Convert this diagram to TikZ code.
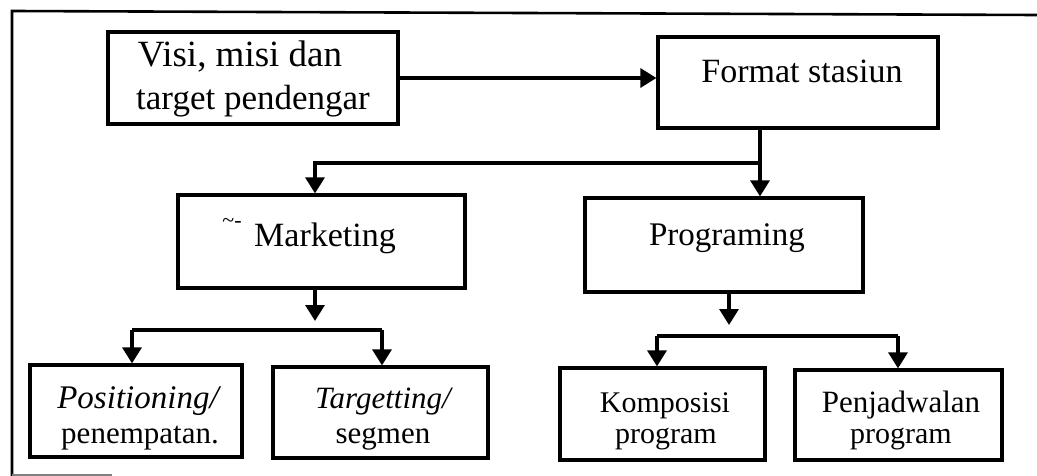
\documentclass[tikz,border=0pt]{standalone}
\usepackage{fontspec}
\setmainfont{Liberation Serif}
\usetikzlibrary{arrows.meta}
\begin{document}
\begin{tikzpicture}[x=1pt,y=-1pt,
  box/.style={draw, line width=3.2pt, inner sep=0pt, rectangle},
  txt/.style={anchor=base, inner sep=0pt},
  conn/.style={line width=3.2pt},
  arr/.style={conn, -{Triangle[length=16pt,width=19pt]}},
  frame/.style={line width=2.6pt}]
\useasboundingbox (0,0) rectangle (1037,476);
\fill[white] (0,0) rectangle (1037,476);
% frame
\draw[frame] (12,476) -- (12,11) -- (1037,15);
\draw[gray, line width=2.4pt] (12,475) -- (112,475);
% boxes
\node[box, minimum width=290, minimum height=92] (visi) at (253,78) {};
\node[box, minimum width=280, minimum height=91] (fmt) at (798,82.5) {};
\node[box, minimum width=287, minimum height=93] (mkt) at (321.5,241.5) {};
\node[box, minimum width=278, minimum height=94] (prog) at (724,245) {};
\node[box, minimum width=212, minimum height=92] (pos) at (136,411) {};
\node[box, minimum width=215, minimum height=91] (tgt) at (380.5,412.5) {};
\node[box, minimum width=205, minimum height=92] (kom) at (662.5,414) {};
\node[box, minimum width=207, minimum height=90] (pen) at (898.5,415) {};
% texts
\node[txt, font=\fontsize{37}{40}\selectfont] (t1) at (240,67) {Visi, misi dan};
\node[txt, font=\fontsize{35}{40}\selectfont] (t2) at (253,110) {target pendengar};
\node[txt, font=\fontsize{34}{40}\selectfont] (t3) at (802,83) {Format stasiun};
\node[txt, font=\fontsize{34}{40}\selectfont] (t4) at (325,247) {Marketing};
\node[txt, font=\fontsize{22}{24}\selectfont] (t4b) at (232,227) {\textasciitilde-};
\node[txt, font=\fontsize{33}{40}\selectfont] (t5) at (727,245) {Programing};
\node[txt, font=\fontsize{33}{40}\selectfont\itshape] (t6) at (138,408) {Positioning/};
\node[txt, font=\fontsize{31}{40}\selectfont] (t7) at (140,443) {penempatan.};
\node[txt, font=\fontsize{31}{40}\selectfont\itshape] (t8) at (383,408) {Targetting/};
\node[txt, font=\fontsize{31}{40}\selectfont] (t9) at (383,443) {segmen};
\node[txt, font=\fontsize{30}{40}\selectfont] (t10) at (665,412) {Komposisi};
\node[txt, font=\fontsize{30}{40}\selectfont] (t11) at (666,443) {program};
\node[txt, font=\fontsize{31}{40}\selectfont] (t12) at (901,412) {Penjadwalan};
\node[txt, font=\fontsize{30}{40}\selectfont] (t13) at (901,443) {program};
% junction coordinates
\coordinate (jf) at (760,163);
\coordinate (jm) at (315,163);
\coordinate (am) at (315,321);
\coordinate (bm) at (315,330);
\coordinate (bl) at (132,330);
\coordinate (br) at (382,330);
\coordinate (ap) at (729,325);
\coordinate (bp) at (729,336);
\coordinate (cl) at (657,336);
\coordinate (cr) at (898,336);
% connectors
\draw[arr] (visi.east) -- (fmt.west |- visi.east);
\draw[arr] (fmt.south -| jf) -- (prog.north -| jf);
\draw[arr] (jf) -- (jm) -- (mkt.north -| jm);
\draw[arr] (mkt.south -| am) -- (am);
\draw[conn] (bl) -- (br);
\draw[arr] (bl) -- (pos.north -| bl);
\draw[arr] (br) -- (tgt.north -| br);
\draw[arr] (prog.south -| ap) -- (ap);
\draw[conn] (cl) -- (cr);
\draw[arr] (cl) -- (kom.north -| cl);
\draw[arr] (cr) -- (pen.north -| cr);
\end{tikzpicture}
\end{document}
